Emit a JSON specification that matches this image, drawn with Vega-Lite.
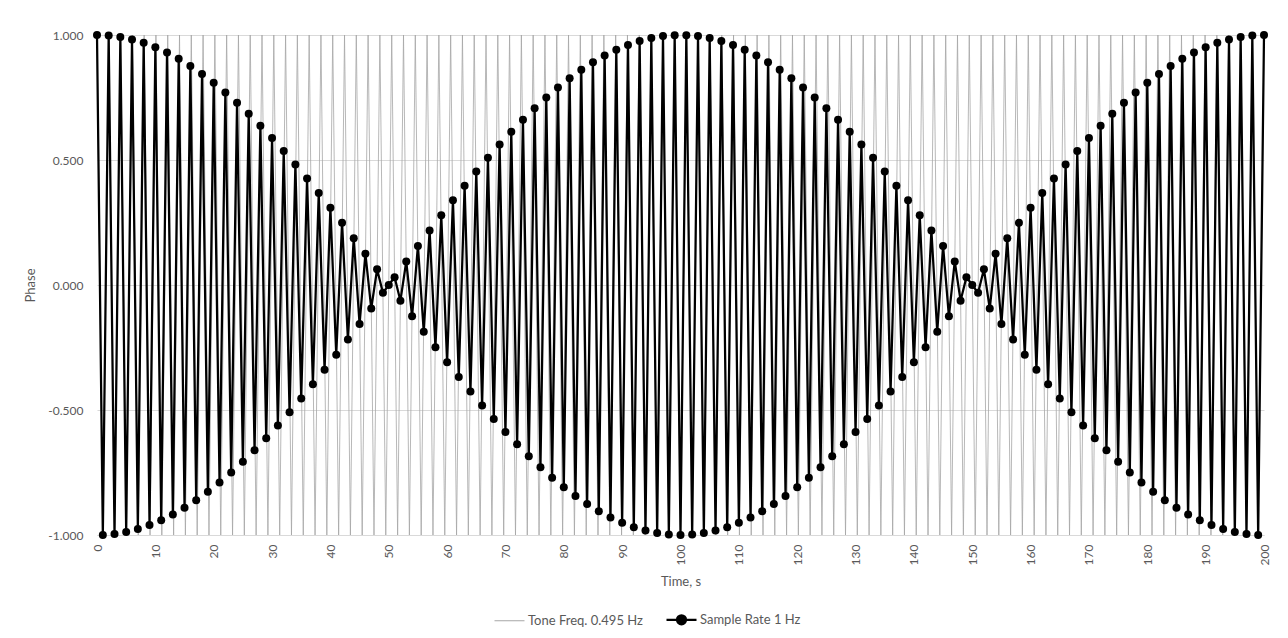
{
"$schema": "https://vega.github.io/schema/vega-lite/v6.json",
"width": 1167, "height": 500,
"autosize": {"type": "none"},
"padding": {"left": 97, "top": 35, "right": 24, "bottom": 103},
"background": "white",
"config": {"view": {"stroke": null}, "font": "Lato"},
"datasets": {
"tone": [
{"t":0,"v":1},{"t":1.01,"v":-1},{"t":2.02,"v":1},{"t":3.03,"v":-1},{"t":4.04,"v":1},{"t":5.05,"v":-1},{"t":6.06,"v":1},{"t":7.07,"v":-1},{"t":8.08,"v":1},{"t":9.09,"v":-1},
{"t":10.1,"v":1},{"t":11.11,"v":-1},{"t":12.12,"v":1},{"t":13.13,"v":-1},{"t":14.14,"v":1},{"t":15.15,"v":-1},{"t":16.16,"v":1},{"t":17.17,"v":-1},{"t":18.18,"v":1},{"t":19.19,"v":-1},
{"t":20.2,"v":1},{"t":21.21,"v":-1},{"t":22.22,"v":1},{"t":23.23,"v":-1},{"t":24.24,"v":1},{"t":25.25,"v":-1},{"t":26.26,"v":1},{"t":27.27,"v":-1},{"t":28.28,"v":1},{"t":29.29,"v":-1},
{"t":30.3,"v":1},{"t":31.31,"v":-1},{"t":32.32,"v":1},{"t":33.33,"v":-1},{"t":34.34,"v":1},{"t":35.35,"v":-1},{"t":36.36,"v":1},{"t":37.37,"v":-1},{"t":38.38,"v":1},{"t":39.39,"v":-1},
{"t":40.4,"v":1},{"t":41.41,"v":-1},{"t":42.42,"v":1},{"t":43.43,"v":-1},{"t":44.44,"v":1},{"t":45.45,"v":-1},{"t":46.46,"v":1},{"t":47.47,"v":-1},{"t":48.48,"v":1},{"t":49.49,"v":-1},
{"t":50.51,"v":1},{"t":51.52,"v":-1},{"t":52.53,"v":1},{"t":53.54,"v":-1},{"t":54.55,"v":1},{"t":55.56,"v":-1},{"t":56.57,"v":1},{"t":57.58,"v":-1},{"t":58.59,"v":1},{"t":59.6,"v":-1},
{"t":60.61,"v":1},{"t":61.62,"v":-1},{"t":62.63,"v":1},{"t":63.64,"v":-1},{"t":64.65,"v":1},{"t":65.66,"v":-1},{"t":66.67,"v":1},{"t":67.68,"v":-1},{"t":68.69,"v":1},{"t":69.7,"v":-1},
{"t":70.71,"v":1},{"t":71.72,"v":-1},{"t":72.73,"v":1},{"t":73.74,"v":-1},{"t":74.75,"v":1},{"t":75.76,"v":-1},{"t":76.77,"v":1},{"t":77.78,"v":-1},{"t":78.79,"v":1},{"t":79.8,"v":-1},
{"t":80.81,"v":1},{"t":81.82,"v":-1},{"t":82.83,"v":1},{"t":83.84,"v":-1},{"t":84.85,"v":1},{"t":85.86,"v":-1},{"t":86.87,"v":1},{"t":87.88,"v":-1},{"t":88.89,"v":1},{"t":89.9,"v":-1},
{"t":90.91,"v":1},{"t":91.92,"v":-1},{"t":92.93,"v":1},{"t":93.94,"v":-1},{"t":94.95,"v":1},{"t":95.96,"v":-1},{"t":96.97,"v":1},{"t":97.98,"v":-1},{"t":98.99,"v":1},{"t":100,"v":-1},
{"t":101.01,"v":1},{"t":102.02,"v":-1},{"t":103.03,"v":1},{"t":104.04,"v":-1},{"t":105.05,"v":1},{"t":106.06,"v":-1},{"t":107.07,"v":1},{"t":108.08,"v":-1},{"t":109.09,"v":1},
{"t":110.1,"v":-1},{"t":111.11,"v":1},{"t":112.12,"v":-1},{"t":113.13,"v":1},{"t":114.14,"v":-1},{"t":115.15,"v":1},{"t":116.16,"v":-1},{"t":117.17,"v":1},{"t":118.18,"v":-1},{"t":119.19,"v":1},
{"t":120.2,"v":-1},{"t":121.21,"v":1},{"t":122.22,"v":-1},{"t":123.23,"v":1},{"t":124.24,"v":-1},{"t":125.25,"v":1},{"t":126.26,"v":-1},{"t":127.27,"v":1},{"t":128.28,"v":-1},{"t":129.29,"v":1},
{"t":130.3,"v":-1},{"t":131.31,"v":1},{"t":132.32,"v":-1},{"t":133.33,"v":1},{"t":134.34,"v":-1},{"t":135.35,"v":1},{"t":136.36,"v":-1},{"t":137.37,"v":1},{"t":138.38,"v":-1},{"t":139.39,"v":1},
{"t":140.4,"v":-1},{"t":141.41,"v":1},{"t":142.42,"v":-1},{"t":143.43,"v":1},{"t":144.44,"v":-1},{"t":145.45,"v":1},{"t":146.46,"v":-1},{"t":147.47,"v":1},{"t":148.48,"v":-1},{"t":149.49,"v":1},
{"t":150.51,"v":-1},{"t":151.52,"v":1},{"t":152.53,"v":-1},{"t":153.54,"v":1},{"t":154.55,"v":-1},{"t":155.56,"v":1},{"t":156.57,"v":-1},{"t":157.58,"v":1},{"t":158.59,"v":-1},{"t":159.6,"v":1},
{"t":160.61,"v":-1},{"t":161.62,"v":1},{"t":162.63,"v":-1},{"t":163.64,"v":1},{"t":164.65,"v":-1},{"t":165.66,"v":1},{"t":166.67,"v":-1},{"t":167.68,"v":1},{"t":168.69,"v":-1},{"t":169.7,"v":1},
{"t":170.71,"v":-1},{"t":171.72,"v":1},{"t":172.73,"v":-1},{"t":173.74,"v":1},{"t":174.75,"v":-1},{"t":175.76,"v":1},{"t":176.77,"v":-1},{"t":177.78,"v":1},{"t":178.79,"v":-1},{"t":179.8,"v":1},
{"t":180.81,"v":-1},{"t":181.82,"v":1},{"t":182.83,"v":-1},{"t":183.84,"v":1},{"t":184.85,"v":-1},{"t":185.86,"v":1},{"t":186.87,"v":-1},{"t":187.88,"v":1},{"t":188.89,"v":-1},{"t":189.9,"v":1},
{"t":190.91,"v":-1},{"t":191.92,"v":1},{"t":192.93,"v":-1},{"t":193.94,"v":1},{"t":194.95,"v":-1},{"t":195.96,"v":1},{"t":196.97,"v":-1},{"t":197.98,"v":1},{"t":198.99,"v":-1},{"t":200,"v":1}
],
"sample": [
{"t":0,"v":1},{"t":1,"v":-0.9995},{"t":2,"v":0.998},{"t":3,"v":-0.9956},{"t":4,"v":0.9921},{"t":5,"v":-0.9877},{"t":6,"v":0.9823},{"t":7,"v":-0.9759},{"t":8,"v":0.9686},{"t":9,"v":-0.9603},
{"t":10,"v":0.9511},{"t":11,"v":-0.9409},{"t":12,"v":0.9298},{"t":13,"v":-0.9178},{"t":14,"v":0.9048},{"t":15,"v":-0.891},{"t":16,"v":0.8763},{"t":17,"v":-0.8607},{"t":18,"v":0.8443},{"t":19,"v":-0.8271},
{"t":20,"v":0.809},{"t":21,"v":-0.7902},{"t":22,"v":0.7705},{"t":23,"v":-0.7501},{"t":24,"v":0.729},{"t":25,"v":-0.7071},{"t":26,"v":0.6846},{"t":27,"v":-0.6613},{"t":28,"v":0.6374},{"t":29,"v":-0.6129},
{"t":30,"v":0.5878},{"t":31,"v":-0.5621},{"t":32,"v":0.5358},{"t":33,"v":-0.509},{"t":34,"v":0.4818},{"t":35,"v":-0.454},{"t":36,"v":0.4258},{"t":37,"v":-0.3971},{"t":38,"v":0.3681},{"t":39,"v":-0.3387},
{"t":40,"v":0.309},{"t":41,"v":-0.279},{"t":42,"v":0.2487},{"t":43,"v":-0.2181},{"t":44,"v":0.1874},{"t":45,"v":-0.1564},{"t":46,"v":0.1253},{"t":47,"v":-0.0941},{"t":48,"v":0.0628},{"t":49,"v":-0.0314},
{"t":50,"v":0},{"t":51,"v":0.0314},{"t":52,"v":-0.0628},{"t":53,"v":0.0941},{"t":54,"v":-0.1253},{"t":55,"v":0.1564},{"t":56,"v":-0.1874},{"t":57,"v":0.2181},{"t":58,"v":-0.2487},{"t":59,"v":0.279},
{"t":60,"v":-0.309},{"t":61,"v":0.3387},{"t":62,"v":-0.3681},{"t":63,"v":0.3971},{"t":64,"v":-0.4258},{"t":65,"v":0.454},{"t":66,"v":-0.4818},{"t":67,"v":0.509},{"t":68,"v":-0.5358},{"t":69,"v":0.5621},
{"t":70,"v":-0.5878},{"t":71,"v":0.6129},{"t":72,"v":-0.6374},{"t":73,"v":0.6613},{"t":74,"v":-0.6846},{"t":75,"v":0.7071},{"t":76,"v":-0.729},{"t":77,"v":0.7501},{"t":78,"v":-0.7705},{"t":79,"v":0.7902},
{"t":80,"v":-0.809},{"t":81,"v":0.8271},{"t":82,"v":-0.8443},{"t":83,"v":0.8607},{"t":84,"v":-0.8763},{"t":85,"v":0.891},{"t":86,"v":-0.9048},{"t":87,"v":0.9178},{"t":88,"v":-0.9298},{"t":89,"v":0.9409},
{"t":90,"v":-0.9511},{"t":91,"v":0.9603},{"t":92,"v":-0.9686},{"t":93,"v":0.9759},{"t":94,"v":-0.9823},{"t":95,"v":0.9877},{"t":96,"v":-0.9921},{"t":97,"v":0.9956},{"t":98,"v":-0.998},{"t":99,"v":0.9995},
{"t":100,"v":-1},{"t":101,"v":0.9995},{"t":102,"v":-0.998},{"t":103,"v":0.9956},{"t":104,"v":-0.9921},{"t":105,"v":0.9877},{"t":106,"v":-0.9823},{"t":107,"v":0.9759},{"t":108,"v":-0.9686},{"t":109,"v":0.9603},
{"t":110,"v":-0.9511},{"t":111,"v":0.9409},{"t":112,"v":-0.9298},{"t":113,"v":0.9178},{"t":114,"v":-0.9048},{"t":115,"v":0.891},{"t":116,"v":-0.8763},{"t":117,"v":0.8607},{"t":118,"v":-0.8443},{"t":119,"v":0.8271},
{"t":120,"v":-0.809},{"t":121,"v":0.7902},{"t":122,"v":-0.7705},{"t":123,"v":0.7501},{"t":124,"v":-0.729},{"t":125,"v":0.7071},{"t":126,"v":-0.6846},{"t":127,"v":0.6613},{"t":128,"v":-0.6374},{"t":129,"v":0.6129},
{"t":130,"v":-0.5878},{"t":131,"v":0.5621},{"t":132,"v":-0.5358},{"t":133,"v":0.509},{"t":134,"v":-0.4818},{"t":135,"v":0.454},{"t":136,"v":-0.4258},{"t":137,"v":0.3971},{"t":138,"v":-0.3681},{"t":139,"v":0.3387},
{"t":140,"v":-0.309},{"t":141,"v":0.279},{"t":142,"v":-0.2487},{"t":143,"v":0.2181},{"t":144,"v":-0.1874},{"t":145,"v":0.1564},{"t":146,"v":-0.1253},{"t":147,"v":0.0941},{"t":148,"v":-0.0628},{"t":149,"v":0.0314},
{"t":150,"v":0},{"t":151,"v":-0.0314},{"t":152,"v":0.0628},{"t":153,"v":-0.0941},{"t":154,"v":0.1253},{"t":155,"v":-0.1564},{"t":156,"v":0.1874},{"t":157,"v":-0.2181},{"t":158,"v":0.2487},{"t":159,"v":-0.279},
{"t":160,"v":0.309},{"t":161,"v":-0.3387},{"t":162,"v":0.3681},{"t":163,"v":-0.3971},{"t":164,"v":0.4258},{"t":165,"v":-0.454},{"t":166,"v":0.4818},{"t":167,"v":-0.509},{"t":168,"v":0.5358},{"t":169,"v":-0.5621},
{"t":170,"v":0.5878},{"t":171,"v":-0.6129},{"t":172,"v":0.6374},{"t":173,"v":-0.6613},{"t":174,"v":0.6846},{"t":175,"v":-0.7071},{"t":176,"v":0.729},{"t":177,"v":-0.7501},{"t":178,"v":0.7705},{"t":179,"v":-0.7902},
{"t":180,"v":0.809},{"t":181,"v":-0.8271},{"t":182,"v":0.8443},{"t":183,"v":-0.8607},{"t":184,"v":0.8763},{"t":185,"v":-0.891},{"t":186,"v":0.9048},{"t":187,"v":-0.9178},{"t":188,"v":0.9298},{"t":189,"v":-0.9409},
{"t":190,"v":0.9511},{"t":191,"v":-0.9603},{"t":192,"v":0.9686},{"t":193,"v":-0.9759},{"t":194,"v":0.9823},{"t":195,"v":-0.9877},{"t":196,"v":0.9921},{"t":197,"v":-0.9956},{"t":198,"v":0.998},{"t":199,"v":-0.9995},
{"t":200,"v":1}
]
},
"layer": [
{
"data": {"name": "tone"},
"mark": {"type": "line", "strokeWidth": 0.8},
"encoding": {
"x": {"field": "t", "type": "quantitative", "scale": {"domain": [0, 200], "nice": false},
"axis": {"title": "Time, s", "values": [0,10,20,30,40,50,60,70,80,90,100,110,120,130,140,150,160,170,180,190,200], "labelAngle": -90, "grid": false, "ticks": false, "domainColor": "#d9d9d9", "labelColor": "#595959", "labelFontSize": 12, "labelPadding": 9, "titleColor": "#595959", "titleFontSize": 13, "titleFontWeight": "normal", "titlePadding": 11, "labelFlush": false, "labelOverlap": false}},
"y": {"field": "v", "type": "quantitative", "scale": {"domain": [-1, 1], "nice": false},
"axis": {"title": "Phase", "values": [-1,-0.5,0,0.5,1], "labelExpr": "datum.value < 0 ? '-' + format(-datum.value, '.3f') : format(datum.value, '.3f')", "gridColor": "#d9d9d9", "domain": false, "ticks": false, "labelColor": "#595959", "labelFontSize": 12, "labelPadding": 14, "titleColor": "#595959", "titleFontSize": 13, "titleFontWeight": "normal", "titlePadding": 10}},
"color": {"datum": "Tone Freq. 0.495 Hz", "type": "nominal",
"scale": {"domain": ["Tone Freq. 0.495 Hz", "Sample Rate 1 Hz"], "range": ["#a6a6a6", "#000000"]},
"legend": {"orient": "none", "legendX": 406, "legendY": 578, "direction": "horizontal", "title": null, "symbolSize": 900, "labelFontSize": 13, "labelColor": "#595959", "columnPadding": 19, "labelOffset": 12,
"encode": {"symbols": {"update": {
"shape": {"signal": "datum.value === 'Sample Rate 1 Hz' ? 'M-1,0H1M-0.3,0A0.3,0.3,0,1,0,0.3,0A0.3,0.3,0,1,0,-0.3,0Z' : 'M-1,0H1'"},
"fill": {"signal": "datum.value === 'Sample Rate 1 Hz' ? '#000000' : 'transparent'"},
"strokeWidth": {"signal": "datum.value === 'Sample Rate 1 Hz' ? 2.25 : 1"}
}}}}}
}
},
{
"data": {"name": "sample"},
"mark": {"type": "line", "strokeWidth": 2.25, "point": {"filled": true, "size": 64, "opacity": 1}},
"encoding": {
"x": {"field": "t", "type": "quantitative"},
"y": {"field": "v", "type": "quantitative"},
"color": {"datum": "Sample Rate 1 Hz", "type": "nominal"}
}
}
]
}
